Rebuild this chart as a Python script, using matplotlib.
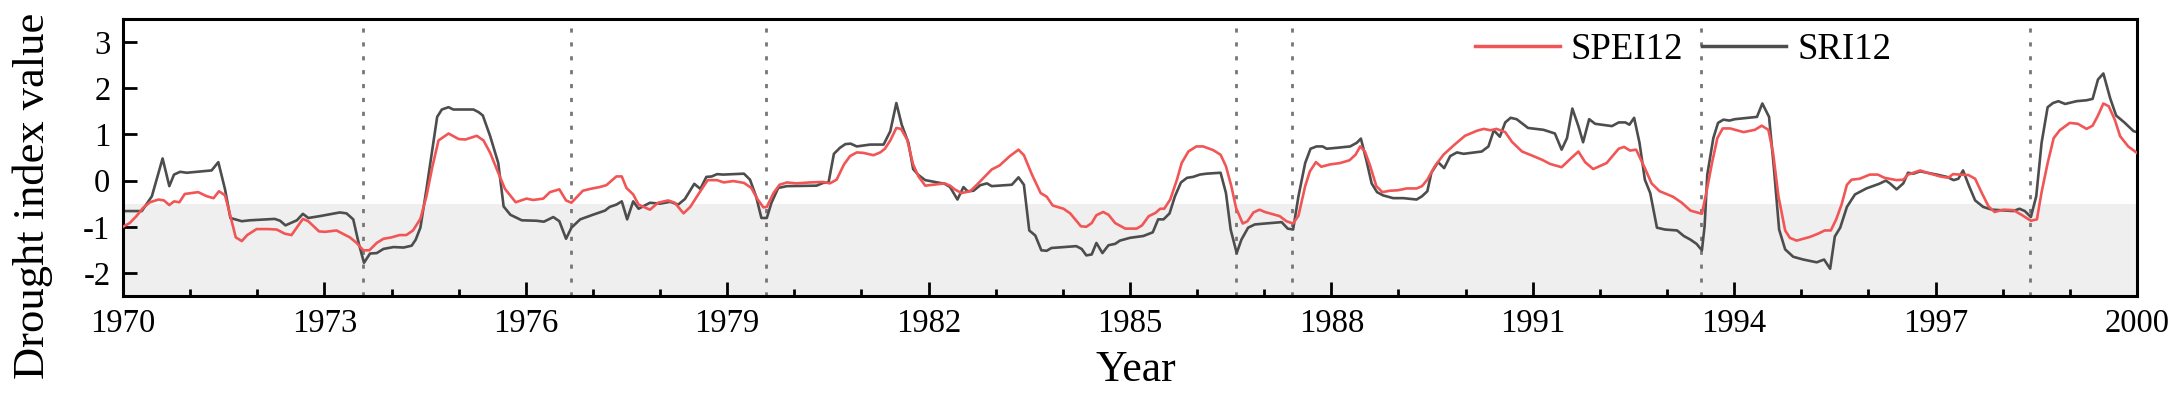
import numpy as np
import matplotlib
matplotlib.use('Agg')
import matplotlib.pyplot as plt

# decimal year, value
sri_t = [1970.00, 1970.28, 1970.43, 1970.59, 1970.69, 1970.76, 1970.85, 1970.95, 1971.32, 1971.42,
	1971.52, 1971.60, 1971.77, 1971.89, 1972.26, 1972.34, 1972.42, 1972.59, 1972.68, 1972.76,
	1972.93, 1973.23, 1973.33, 1973.43, 1973.51, 1973.59, 1973.68, 1973.78, 1973.88, 1974.03,
	1974.18, 1974.30, 1974.36, 1974.43, 1974.52, 1974.60, 1974.68, 1974.75, 1974.85, 1974.92,
	1975.22, 1975.30, 1975.36, 1975.47, 1975.59, 1975.67, 1975.77, 1975.94, 1976.16, 1976.27,
	1976.41, 1976.50, 1976.60, 1976.68, 1976.81, 1977.00, 1977.18, 1977.25, 1977.35, 1977.43,
	1977.51, 1977.60, 1977.68, 1977.85, 1978.00, 1978.15, 1978.27, 1978.37, 1978.51, 1978.60,
	1978.69, 1978.77, 1978.85, 1978.94, 1979.25, 1979.34, 1979.43, 1979.51, 1979.59, 1979.66,
	1979.76, 1979.89, 1980.33, 1980.43, 1980.51, 1980.59, 1980.68, 1980.76, 1980.84, 1980.93,
	1981.13, 1981.33, 1981.43, 1981.52, 1981.60, 1981.70, 1981.77, 1981.85, 1981.95, 1982.24,
	1982.32, 1982.43, 1982.52, 1982.58, 1982.67, 1982.77, 1982.87, 1982.94, 1983.24, 1983.34,
	1983.42, 1983.50, 1983.59, 1983.68, 1983.76, 1983.83, 1984.20, 1984.28, 1984.35, 1984.43,
	1984.50, 1984.59, 1984.68, 1984.78, 1984.85, 1985.00, 1985.20, 1985.34, 1985.42, 1985.50,
	1985.59, 1985.67, 1985.76, 1985.85, 1985.94, 1986.04, 1986.14, 1986.35, 1986.43, 1986.50,
	1986.59, 1986.66, 1986.76, 1986.86, 1987.01, 1987.26, 1987.35, 1987.43, 1987.51, 1987.61,
	1987.69, 1987.78, 1987.87, 1987.93, 1988.08, 1988.28, 1988.38, 1988.44, 1988.52, 1988.60,
	1988.68, 1988.77, 1988.92, 1989.07, 1989.27, 1989.35, 1989.43, 1989.49, 1989.59, 1989.68,
	1989.77, 1989.87, 1989.97, 1990.24, 1990.34, 1990.42, 1990.51, 1990.59, 1990.67, 1990.76,
	1990.93, 1991.16, 1991.33, 1991.43, 1991.51, 1991.59, 1991.68, 1991.75, 1991.84, 1991.93,
	1992.18, 1992.28, 1992.38, 1992.44, 1992.51, 1992.59, 1992.67, 1992.75, 1992.85, 1992.97,
	1993.15, 1993.25, 1993.35, 1993.44, 1993.52, 1993.56, 1993.60, 1993.69, 1993.76, 1993.84,
	1993.93, 1994.01, 1994.34, 1994.42, 1994.52, 1994.59, 1994.67, 1994.76, 1994.88, 1995.03,
	1995.23, 1995.34, 1995.43, 1995.50, 1995.58, 1995.68, 1995.80, 1995.97, 1996.16, 1996.26,
	1996.32, 1996.42, 1996.52, 1996.59, 1996.67, 1996.77, 1997.02, 1997.17, 1997.27, 1997.34,
	1997.41, 1997.50, 1997.59, 1997.71, 1997.84, 1997.96, 1998.16, 1998.25, 1998.33, 1998.42,
	1998.50, 1998.58, 1998.67, 1998.75, 1998.83, 1998.93, 1999.10, 1999.25, 1999.34, 1999.42,
	1999.50, 1999.60, 1999.69, 1999.82, 1999.95, 2000.00]
sri = [-0.66, -0.66, -0.34, 0.48, -0.12, 0.13, 0.19, 0.17, 0.22, 0.40,
	-0.19, -0.81, -0.88, -0.86, -0.83, -0.87, -0.97, -0.86, -0.72, -0.81,
	-0.77, -0.69, -0.71, -0.84, -1.35, -1.78, -1.58, -1.57, -1.48, -1.44,
	-1.45, -1.41, -1.28, -1.02, -0.19, 0.60, 1.38, 1.54, 1.59, 1.54,
	1.54, 1.48, 1.41, 0.96, 0.38, -0.56, -0.74, -0.86, -0.87, -0.89,
	-0.79, -0.88, -1.26, -1.02, -0.84, -0.74, -0.65, -0.57, -0.52, -0.45,
	-0.84, -0.45, -0.61, -0.48, -0.50, -0.46, -0.52, -0.40, -0.07, -0.18,
	0.08, 0.09, 0.14, 0.13, 0.15, 0.02, -0.34, -0.81, -0.81, -0.48,
	-0.16, -0.12, -0.11, -0.05, -0.04, 0.58, 0.71, 0.79, 0.80, 0.74,
	0.78, 0.78, 1.07, 1.68, 1.21, 0.82, 0.25, 0.12, 0.01, -0.07,
	-0.14, -0.41, -0.14, -0.23, -0.22, -0.10, -0.06, -0.12, -0.09, 0.07,
	-0.09, -1.08, -1.19, -1.51, -1.52, -1.46, -1.42, -1.48, -1.62, -1.60,
	-1.35, -1.57, -1.40, -1.37, -1.30, -1.24, -1.20, -1.12, -0.84, -0.84,
	-0.71, -0.34, -0.04, 0.06, 0.08, 0.13, 0.15, 0.17, -0.27, -1.06,
	-1.57, -1.28, -1.02, -0.95, -0.93, -0.90, -1.04, -1.06, -0.34, 0.38,
	0.69, 0.74, 0.74, 0.69, 0.71, 0.74, 0.82, 0.91, 0.45, -0.06,
	-0.25, -0.32, -0.38, -0.38, -0.41, -0.34, -0.23, 0.17, 0.40, 0.27,
	0.53, 0.61, 0.58, 0.63, 0.74, 1.09, 0.95, 1.26, 1.36, 1.33,
	1.14, 1.10, 1.02, 0.67, 0.92, 1.56, 1.18, 0.83, 1.33, 1.23,
	1.18, 1.26, 1.26, 1.21, 1.36, 0.82, 0.02, -0.27, -1.02, -1.06,
	-1.08, -1.20, -1.28, -1.37, -1.51, -0.99, 0.13, 0.92, 1.25, 1.32,
	1.30, 1.33, 1.38, 1.67, 1.38, 0.31, -1.06, -1.49, -1.65, -1.71,
	-1.77, -1.71, -1.91, -1.21, -1.02, -0.57, -0.30, -0.17, -0.07, 0.00,
	-0.06, -0.19, -0.06, 0.17, 0.15, 0.20, 0.13, 0.08, 0.01, 0.04,
	0.22, -0.12, -0.43, -0.57, -0.63, -0.64, -0.66, -0.61, -0.66, -0.79,
	-0.34, 0.82, 1.59, 1.68, 1.72, 1.66, 1.72, 1.74, 1.77, 2.19,
	2.32, 1.79, 1.41, 1.25, 1.07, 1.05]

spei_t = [1970.00, 1970.10, 1970.20, 1970.30, 1970.40, 1970.53, 1970.61, 1970.69, 1970.76, 1970.84,
	1970.92, 1971.12, 1971.25, 1971.35, 1971.43, 1971.52, 1971.60, 1971.68, 1971.77, 1971.85,
	1971.99, 1972.16, 1972.29, 1972.41, 1972.51, 1972.68, 1972.76, 1972.92, 1973.01, 1973.18,
	1973.38, 1973.48, 1973.58, 1973.67, 1973.78, 1973.88, 1974.00, 1974.12, 1974.22, 1974.32,
	1974.43, 1974.52, 1974.61, 1974.70, 1974.85, 1975.00, 1975.10, 1975.27, 1975.37, 1975.47,
	1975.57, 1975.69, 1975.85, 1976.01, 1976.11, 1976.26, 1976.36, 1976.50, 1976.60, 1976.68,
	1976.85, 1976.96, 1977.10, 1977.20, 1977.35, 1977.43, 1977.50, 1977.60, 1977.68, 1977.85,
	1977.97, 1978.12, 1978.22, 1978.35, 1978.45, 1978.60, 1978.71, 1978.85, 1978.95, 1979.09,
	1979.25, 1979.36, 1979.45, 1979.54, 1979.59, 1979.69, 1979.78, 1979.89, 1980.03, 1980.23,
	1980.43, 1980.53, 1980.63, 1980.74, 1980.83, 1980.93, 1981.03, 1981.18, 1981.28, 1981.35,
	1981.43, 1981.52, 1981.59, 1981.68, 1981.77, 1981.85, 1981.95, 1982.07, 1982.24, 1982.32,
	1982.39, 1982.49, 1982.62, 1982.72, 1982.82, 1982.94, 1983.06, 1983.21, 1983.34, 1983.42,
	1983.54, 1983.67, 1983.76, 1983.85, 1984.01, 1984.11, 1984.27, 1984.35, 1984.43, 1984.50,
	1984.60, 1984.68, 1984.78, 1984.93, 1985.10, 1985.18, 1985.28, 1985.38, 1985.45, 1985.51,
	1985.60, 1985.70, 1985.77, 1985.87, 1985.99, 1986.09, 1986.24, 1986.35, 1986.43, 1986.51,
	1986.58, 1986.68, 1986.75, 1986.84, 1986.93, 1987.01, 1987.23, 1987.33, 1987.43, 1987.51,
	1987.61, 1987.68, 1987.77, 1987.85, 1987.98, 1988.13, 1988.27, 1988.36, 1988.43, 1988.50,
	1988.58, 1988.67, 1988.76, 1988.87, 1988.99, 1989.12, 1989.27, 1989.35, 1989.43, 1989.54,
	1989.67, 1989.82, 1989.99, 1990.17, 1990.27, 1990.37, 1990.46, 1990.59, 1990.69, 1990.84,
	1991.01, 1991.14, 1991.26, 1991.43, 1991.56, 1991.68, 1991.78, 1991.90, 1992.10, 1992.28,
	1992.36, 1992.45, 1992.54, 1992.67, 1992.77, 1992.89, 1993.09, 1993.22, 1993.35, 1993.52,
	1993.59, 1993.67, 1993.75, 1993.83, 1993.94, 1994.14, 1994.31, 1994.41, 1994.51, 1994.58,
	1994.66, 1994.76, 1994.83, 1994.93, 1995.13, 1995.25, 1995.35, 1995.44, 1995.52, 1995.60,
	1995.68, 1995.75, 1995.87, 1996.02, 1996.14, 1996.24, 1996.42, 1996.52, 1996.59, 1996.77,
	1996.92, 1997.07, 1997.19, 1997.26, 1997.36, 1997.49, 1997.59, 1997.69, 1997.79, 1997.88,
	1998.01, 1998.16, 1998.28, 1998.42, 1998.51, 1998.58, 1998.67, 1998.76, 1998.85, 1999.00,
	1999.12, 1999.25, 1999.34, 1999.42, 1999.50, 1999.58, 1999.67, 1999.75, 1999.87, 2000.00]
spei = [-1.00, -0.92, -0.77, -0.59, -0.47, -0.41, -0.43, -0.53, -0.45, -0.47,
	-0.29, -0.25, -0.34, -0.38, -0.23, -0.32, -0.77, -1.23, -1.31, -1.18,
	-1.05, -1.05, -1.06, -1.15, -1.18, -0.83, -0.88, -1.10, -1.11, -1.08,
	-1.23, -1.35, -1.51, -1.51, -1.35, -1.26, -1.23, -1.18, -1.18, -1.08,
	-0.83, -0.34, 0.31, 0.87, 1.02, 0.90, 0.89, 0.97, 0.87, 0.60,
	0.24, -0.18, -0.47, -0.39, -0.42, -0.39, -0.25, -0.19, -0.43, -0.48,
	-0.22, -0.18, -0.14, -0.10, 0.09, 0.09, -0.16, -0.30, -0.52, -0.63,
	-0.48, -0.43, -0.48, -0.71, -0.57, -0.23, 0.01, 0.01, -0.04, -0.01,
	-0.05, -0.16, -0.40, -0.58, -0.57, -0.27, -0.09, -0.04, -0.06, -0.04,
	-0.03, -0.06, 0.02, 0.35, 0.53, 0.61, 0.60, 0.55, 0.61, 0.69,
	0.87, 1.14, 1.12, 0.89, 0.35, 0.09, -0.11, -0.09, -0.06, -0.11,
	-0.19, -0.27, -0.23, -0.09, 0.06, 0.24, 0.33, 0.53, 0.67, 0.55,
	0.13, -0.27, -0.35, -0.54, -0.61, -0.71, -0.99, -1.00, -0.92, -0.75,
	-0.68, -0.74, -0.92, -1.04, -1.04, -0.97, -0.77, -0.70, -0.61, -0.61,
	-0.41, 0.02, 0.38, 0.63, 0.74, 0.74, 0.66, 0.56, 0.31, -0.12,
	-0.59, -0.93, -0.88, -0.69, -0.63, -0.68, -0.77, -0.88, -0.93, -0.76,
	-0.12, 0.20, 0.40, 0.30, 0.35, 0.38, 0.44, 0.56, 0.74, 0.63,
	0.31, -0.12, -0.25, -0.22, -0.21, -0.17, -0.17, -0.12, 0.02, 0.31,
	0.56, 0.76, 0.97, 1.08, 1.12, 1.09, 1.12, 1.05, 0.84, 0.63,
	0.53, 0.45, 0.36, 0.29, 0.47, 0.63, 0.40, 0.25, 0.38, 0.69,
	0.73, 0.65, 0.67, 0.27, -0.06, -0.23, -0.35, -0.48, -0.65, -0.72,
	-0.23, 0.38, 0.92, 1.13, 1.13, 1.05, 1.10, 1.19, 1.10, 0.60,
	-0.34, -1.08, -1.24, -1.30, -1.22, -1.15, -1.08, -1.08, -0.84, -0.52,
	-0.09, 0.02, 0.04, 0.13, 0.13, 0.06, 0.01, 0.02, 0.13, 0.22,
	0.15, 0.09, 0.06, 0.14, 0.13, 0.12, 0.04, -0.27, -0.56, -0.68,
	-0.63, -0.64, -0.74, -0.87, -0.84, -0.25, 0.38, 0.92, 1.09, 1.25,
	1.23, 1.12, 1.19, 1.41, 1.67, 1.61, 1.32, 0.96, 0.74, 0.60]

# drought onset markers
events = [1973.58, 1976.67, 1979.58, 1986.58, 1987.42, 1993.50, 1998.41]
years = [1970, 1973, 1976, 1979, 1982, 1985, 1988, 1991, 1994, 1997, 2000]

plt.rcParams['font.family'] = 'Liberation Serif'
plt.rcParams['axes.unicode_minus'] = False

fig = plt.figure(figsize=(21.73, 3.96), dpi=100)
ax = fig.add_axes([0.0566, 0.2525, 0.9268, 0.6995])

ax.axhspan(-2.5, -0.5, color='#efefef', zorder=0, lw=0)
for e in events:
	ax.axvline(e, color='#777777', lw=2, ls=(0, (1.5, 3.5)), zorder=1)

ax.plot(spei_t, spei, color='#f25555', lw=1.9, label='SPEI12', zorder=3)
ax.plot(sri_t, sri, color='#4d4d4d', lw=1.9, label='SRI12', zorder=2)

ax.set_xlim(1970, 2000)
ax.set_ylim(-2.5, 3.5)
ax.set_xticks(years)
ax.set_xticks(np.arange(1970, 2001, 1), minor=True)
ax.set_yticks([-2, -1, 0, 1, 2, 3])
ax.tick_params(which='both', direction='in', labelsize=23.5, width=2, pad=9)
ax.tick_params(which='major', length=10)
ax.tick_params(which='minor', length=5)
ax.tick_params(axis='y', which='minor', left=False)
for s in ax.spines.values():
	s.set_linewidth(2.2)

ax.set_xlabel('Year', fontsize=31.5)
ax.set_ylabel('Drought index value', fontsize=32)
ax.xaxis.set_label_coords(0.503, -0.267)
ax.xaxis.label.set_va('center')
ax.yaxis.set_label_coords(-0.045, 0.36)
ax.yaxis.label.set_va('center')

leg = ax.legend(loc='center right', bbox_to_anchor=(0.878, 0.888), ncol=2, frameon=False,
	fontsize=26.5, handlelength=2.3, handletextpad=0.3, columnspacing=0.5,
	borderaxespad=0, borderpad=0)
for l in leg.get_lines():
	l.set_linewidth(2.5)

fig.savefig('out.png', dpi=100)
